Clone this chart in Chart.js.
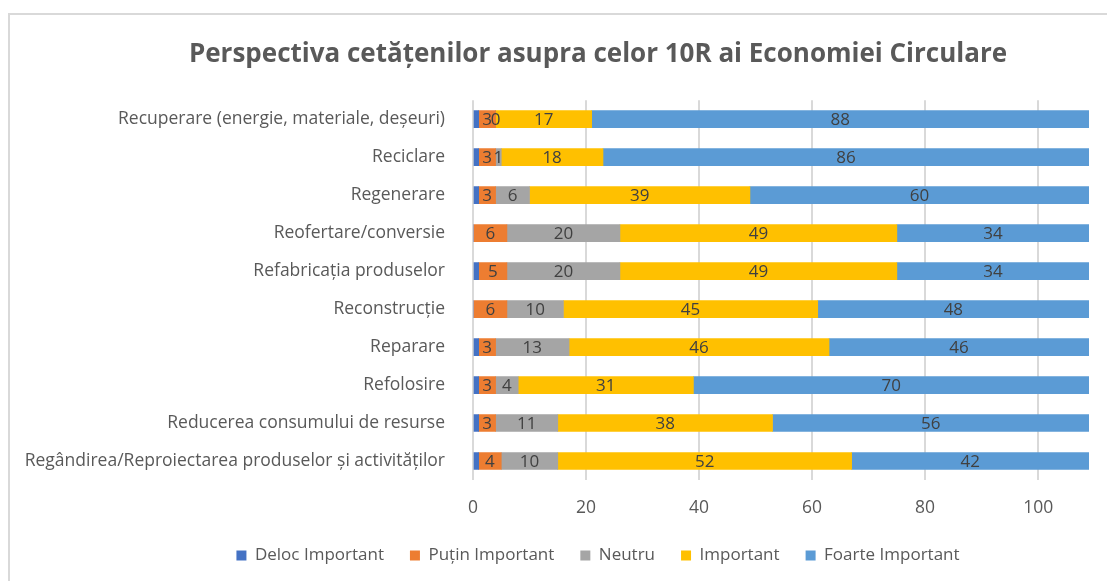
<!DOCTYPE html>
<html lang="ro">
<head>
<meta charset="utf-8">
<title>Perspectiva cetățenilor asupra celor 10R</title>
<script src="https://cdn.jsdelivr.net/npm/chart.js@4.4.1/dist/chart.umd.min.js"></script>
<style>
  html, body { margin: 0; padding: 0; background: #ffffff; overflow: hidden; }
  .wrap { position: relative; width: 1107px; height: 581px; }
  /* bingkai abu-abu tipis seperti di Excel */
  .frame {
    position: absolute; left: 8px; top: 13px; width: 1200px; height: 700px;
    border-left: 2px solid #d9d9d9; border-top: 2px solid #d9d9d9;
    pointer-events: none;
  }
  canvas { position: absolute; left: 0; top: 0; }
</style>
</head>
<body>
<div class="wrap">
  <div class="frame"></div>
  <canvas id="chart-10r" width="1107" height="581"></canvas>
</div>
<script>
// Data kategori (urutan dari atas ke bawah)
const categories = [
  "Recuperare (energie, materiale, deșeuri)",
  "Reciclare",
  "Regenerare",
  "Reofertare/conversie",
  "Refabricația produselor",
  "Reconstrucție",
  "Reparare",
  "Refolosire",
  "Reducerea consumului de resurse",
  "Regândirea/Reproiectarea produselor și activităților",
];

// Nilai tiap seri
const delocImportant = [1, 1, 1, 0, 1, 0, 1, 1, 1, 1];
const putinImportant = [3, 3, 3, 6, 5, 6, 3, 3, 3, 4];
const neutru = [0, 1, 6, 20, 20, 10, 13, 4, 11, 10];
const important = [17, 18, 39, 49, 49, 45, 46, 31, 38, 52];
const foarteImportant = [88, 86, 60, 34, 34, 48, 46, 70, 56, 42];

// Label sumbu X
const xTicks = [0, 20, 40, 60, 80, 100];
const xMax = 109;

const fontFamily = "'Open Sans', Lato, sans-serif";
const textColor = "#595959";

// Plugin kecil: tulis angka di tengah tiap segmen (kecuali seri pertama)
const segmentLabels = {
  id: "segmentLabels",
  afterDatasetsDraw(chart) {
    const ctx = chart.ctx;
    ctx.save();
    ctx.font = "17px " + fontFamily;
    ctx.fillStyle = "#404040";
    ctx.textAlign = "center";
    ctx.textBaseline = "middle";
    chart.data.datasets.forEach(function (ds, i) {
      if (ds.hideLabel) return;
      const meta = chart.getDatasetMeta(i);
      meta.data.forEach(function (bar, j) {
        const cx = (bar.x + bar.base) / 2;
        ctx.fillText(String(ds.data[j]), cx, bar.y + 1);
      });
    });
    ctx.restore();
  },
};

// Judul & legend di Excel ditengahkan terhadap seluruh bingkai,
// bukan terhadap area plot -> geser sisi kirinya sedikit
const centerOnFrame = {
  id: "centerOnFrame",
  afterLayout(chart) {
    const shift = 107;
    if (chart.titleBlock) chart.titleBlock.left += shift;
    if (chart.legend) chart.legend.left += shift;
  },
};

function makeSet(label, data, color, hideLabel) {
  return {
    label: label,
    data: data,
    backgroundColor: color,
    borderWidth: 0,
    barThickness: 17,
    hideLabel: hideLabel,
  };
}

new Chart(document.getElementById("chart-10r"), {
  type: "bar",
  data: {
    labels: categories,
    datasets: [
      makeSet("Deloc Important", delocImportant, "#4472C4", true),
      makeSet("Puțin Important", putinImportant, "#ED7D31", false),
      makeSet("Neutru", neutru, "#A5A5A5", false),
      makeSet("Important", important, "#FFC000", false),
      makeSet("Foarte Important", foarteImportant, "#5B9BD5", false),
    ],
  },
  options: {
    indexAxis: "y",
    responsive: false,
    animation: false,
    layout: { padding: { left: 0, right: 18, top: 0, bottom: 7 } },
    plugins: {
      title: {
        display: true,
        text: "Perspectiva cetățenilor asupra celor 10R ai Economiei Circulare",
        color: textColor,
        font: { family: fontFamily, size: 26, weight: "bold", lineHeight: 1.2 },
        padding: { top: 39, bottom: 30 },
      },
      legend: {
        position: "bottom",
        labels: {
          color: textColor,
          font: { family: fontFamily, size: 17 },
          boxWidth: 10,
          boxHeight: 10,
          padding: 26,
        },
      },
      tooltip: { enabled: false },
    },
    scales: {
      x: {
        stacked: true,
        min: 0,
        max: xMax,
        grid: { color: "#d9d9d9", lineWidth: 2, drawTicks: false },
        border: { display: false },
        afterBuildTicks: function (scale) {
          scale.ticks = xTicks.map(function (v) { return { value: v }; });
        },
        afterFit: function (scale) { scale.height = 41; },
        ticks: {
          color: textColor,
          font: { family: fontFamily, size: 17.5 },
          padding: 18,
        },
      },
      y: {
        stacked: true,
        grid: { display: false },
        border: { display: false },
        afterFit: function (scale) { scale.width = 473; },
        ticks: {
          color: textColor,
          font: { family: fontFamily, size: 17.5 },
          padding: 20,
        },
      },
    },
  },
  plugins: [segmentLabels, centerOnFrame],
});
</script>
</body>
</html>
